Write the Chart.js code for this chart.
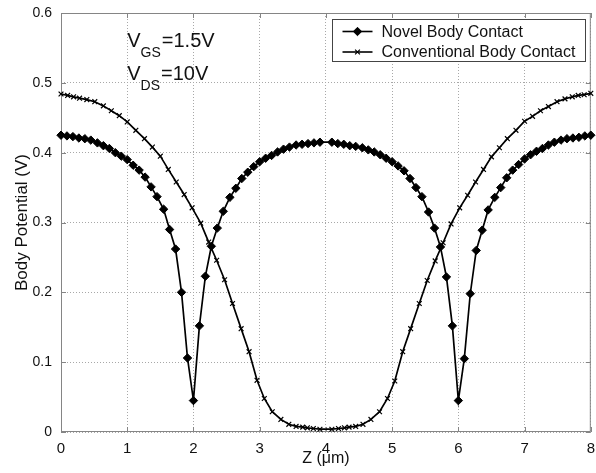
<!DOCTYPE html>
<html>
<head>
<meta charset="utf-8">
<title>Body Potential along Z</title>
<script src="https://cdn.jsdelivr.net/npm/chart.js@4.4.1/dist/chart.umd.min.js"></script>
<style>
  html, body { margin: 0; padding: 0; background: #fff; }
  #bodyChart { display: block; }
</style>
</head>
<body>
<canvas id="bodyChart" width="596" height="473"></canvas>
<script>
// Z position (um) and body potential (V)
const zNovel = [
  0.00, 0.09, 0.18, 0.27, 0.36, 0.45, 0.55, 0.64, 0.73, 0.82, 0.91,
  1.00, 1.09, 1.18, 1.27, 1.36, 1.45, 1.55, 1.64, 1.73, 1.82, 1.91,
  2.00, 2.09, 2.18, 2.27, 2.36, 2.45, 2.55, 2.64, 2.73, 2.82, 2.91,
  3.00, 3.09, 3.18, 3.27, 3.36, 3.45, 3.55, 3.64, 3.73, 3.82, 3.91,
  4.09, 4.18, 4.27, 4.36, 4.45, 4.55, 4.64, 4.73, 4.82, 4.91,
  5.00, 5.09, 5.18, 5.27, 5.36, 5.45, 5.55, 5.64, 5.73, 5.82, 5.91,
  6.00, 6.09, 6.18, 6.27, 6.36, 6.45, 6.55, 6.64, 6.73, 6.82, 6.91,
  7.00, 7.09, 7.18, 7.27, 7.36, 7.45, 7.55, 7.64, 7.73, 7.82, 7.91, 8.00
];
const novelBody = [
  0.425, 0.424, 0.423, 0.421, 0.420, 0.418, 0.414, 0.410, 0.406, 0.400, 0.395,
  0.390, 0.382, 0.375, 0.365, 0.351, 0.337, 0.319, 0.290, 0.262, 0.200, 0.106,
  0.045, 0.152, 0.223, 0.266, 0.292, 0.316, 0.336, 0.349, 0.363, 0.372, 0.380,
  0.387, 0.392, 0.396, 0.401, 0.405, 0.408, 0.411, 0.412, 0.413, 0.414, 0.415,
  0.415, 0.413, 0.412, 0.410, 0.409, 0.407, 0.404, 0.401, 0.397, 0.392,
  0.387, 0.381, 0.374, 0.363, 0.350, 0.337, 0.315, 0.292, 0.265, 0.222, 0.152,
  0.045, 0.105, 0.198, 0.260, 0.289, 0.318, 0.336, 0.350, 0.364, 0.375, 0.383,
  0.391, 0.397, 0.402, 0.406, 0.411, 0.415, 0.418, 0.420, 0.421, 0.422, 0.424, 0.425
];
const zConv = [
  0.00, 0.10, 0.19, 0.28, 0.39, 0.51, 0.64, 0.76, 0.88, 1.00,
  1.13, 1.26, 1.38, 1.50, 1.62, 1.74, 1.86, 1.98, 2.11, 2.23,
  2.35, 2.47, 2.59, 2.72, 2.84, 2.96, 3.07, 3.19, 3.32, 3.44,
  3.55, 3.65, 3.72, 3.81, 3.91,
  4.09, 4.19, 4.28, 4.35, 4.45, 4.56, 4.68, 4.81, 4.93, 5.04,
  5.16, 5.28, 5.41, 5.53, 5.65, 5.77, 5.89, 6.02, 6.14, 6.26,
  6.38, 6.50, 6.62, 6.74, 6.87, 7.00, 7.12, 7.24, 7.36, 7.49,
  7.61, 7.72, 7.81, 7.90, 8.00
];
const convBody = [
  0.484, 0.482, 0.480, 0.478, 0.476, 0.473, 0.467, 0.460, 0.453, 0.444,
  0.432, 0.420, 0.408, 0.395, 0.376, 0.358, 0.340, 0.321, 0.299, 0.272,
  0.246, 0.218, 0.184, 0.148, 0.115, 0.074, 0.048, 0.029, 0.018, 0.011,
  0.008, 0.007, 0.006, 0.005, 0.004,
  0.004, 0.005, 0.006, 0.007, 0.008, 0.011, 0.018, 0.029, 0.048, 0.073,
  0.115, 0.148, 0.184, 0.217, 0.245, 0.271, 0.298, 0.321, 0.339, 0.358,
  0.376, 0.394, 0.407, 0.420, 0.432, 0.445, 0.452, 0.460, 0.466, 0.473,
  0.477, 0.480, 0.482, 0.483, 0.485
];
const zTicks = [0, 1, 2, 3, 4, 5, 6, 7, 8];
const potentialTicks = [0, 0.1, 0.2, 0.3, 0.4, 0.5, 0.6];
const seriesNames = ['Novel Body Contact', 'Conventional Body Contact'];
const biasNotes = [
  { main: 'V', sub: 'GS', rest: '=1.5V' },
  { main: 'V', sub: 'DS', rest: '=10V' }
];

const FONT = '"Liberation Sans", Arial, Helvetica, sans-serif';
Chart.defaults.font.family = FONT;
Chart.defaults.color = '#111';

const toPoints = (xs, ys) => xs.map((z, i) => ({ x: z, y: ys[i] }));

// box, inward ticks, legend and the bias text (MATLAB look)
const matlabFrame = {
  id: 'matlabFrame',
  beforeDatasetsDraw(chart) {
    const { ctx, chartArea: a, scales: { x, y } } = chart;
    ctx.save();
    ctx.strokeStyle = '#858585';
    ctx.lineWidth = 1;
    ctx.strokeRect(a.left + 0.5, a.top + 0.5, a.width - 1, a.height - 1);
    ctx.beginPath();
    zTicks.forEach(v => {
      const px = Math.round(x.getPixelForValue(v)) + 0.5;
      ctx.moveTo(px, a.bottom); ctx.lineTo(px, a.bottom - 5);
      ctx.moveTo(px, a.top); ctx.lineTo(px, a.top + 5);
    });
    potentialTicks.forEach(v => {
      const py = Math.round(y.getPixelForValue(v)) + 0.5;
      ctx.moveTo(a.left, py); ctx.lineTo(a.left + 5, py);
      ctx.moveTo(a.right, py); ctx.lineTo(a.right - 5, py);
    });
    ctx.stroke();
    ctx.restore();
  },
  afterDraw(chart) {
    const { ctx, chartArea: a, scales: { x, y } } = chart;
    ctx.save();

    // legend box
    ctx.font = '16px ' + FONT;
    const textW = Math.max(...seriesNames.map(s => ctx.measureText(s).width));
    const boxW = Math.round(49 + textW + 10);
    const boxH = 42;
    const bx = Math.round(a.right - 6 - boxW) + 0.5;
    const by = Math.round(a.top + 6) + 0.5;
    ctx.fillStyle = '#fff';
    ctx.fillRect(bx, by, boxW, boxH);
    ctx.strokeStyle = '#444';
    ctx.lineWidth = 1;
    ctx.strokeRect(bx, by, boxW, boxH);
    chart.data.datasets.forEach((ds, i) => {
      const ry = by + 12 + i * 20.5;
      ctx.strokeStyle = '#000';
      ctx.lineWidth = 1.6;
      ctx.beginPath();
      ctx.moveTo(bx + 10, ry); ctx.lineTo(bx + 40, ry);
      ctx.stroke();
      ctx.fillStyle = '#000';
      ctx.strokeStyle = '#000';
      ctx.lineWidth = ds.pointBorderWidth;
      Chart.helpers.drawPoint(ctx, {
        pointStyle: ds.pointStyle, radius: ds.pointRadius,
        borderWidth: ds.pointBorderWidth, rotation: 0
      }, bx + 25, ry);
      ctx.fillStyle = '#111';
      ctx.textBaseline = 'middle';
      ctx.textAlign = 'left';
      ctx.font = '16px ' + FONT;
      ctx.fillText(ds.label, bx + 49, ry + 1);
    });

    // bias conditions
    const noteX = x.getPixelForValue(1.0);
    const noteY = [y.getPixelForValue(0.552), y.getPixelForValue(0.504)];
    ctx.fillStyle = '#111';
    ctx.textBaseline = 'alphabetic';
    biasNotes.forEach((n, i) => {
      let cx = noteX;
      ctx.font = '20px ' + FONT;
      ctx.fillText(n.main, cx, noteY[i]);
      cx += ctx.measureText(n.main).width;
      ctx.font = '14px ' + FONT;
      ctx.fillText(n.sub, cx, noteY[i] + 10);
      cx += ctx.measureText(n.sub).width + 1;
      ctx.font = '20px ' + FONT;
      ctx.fillText(n.rest, cx, noteY[i]);
    });
    ctx.restore();
  }
};

const bodyCtx = document.getElementById('bodyChart').getContext('2d');
new Chart(bodyCtx, {
  type: 'scatter',
  data: {
    datasets: [
      {
        label: seriesNames[0],
        data: toPoints(zNovel, novelBody),
        showLine: true,
        borderColor: '#000',
        borderWidth: 1.7,
        pointStyle: 'rectRot',
        pointRadius: 4.2,
        pointBackgroundColor: '#000',
        pointBorderColor: '#000',
        pointBorderWidth: 1,
        clip: 8
      },
      {
        label: seriesNames[1],
        data: toPoints(zConv, convBody),
        showLine: true,
        borderColor: '#000',
        borderWidth: 1.7,
        pointStyle: 'crossRot',
        pointRadius: 3.4,
        pointBackgroundColor: '#000',
        pointBorderColor: '#000',
        pointBorderWidth: 1.2,
        clip: 8
      }
    ]
  },
  options: {
    responsive: false,
    animation: false,
    events: [],
    layout: { padding: { top: 13, right: 4, left: 0, bottom: 0 } },
    scales: {
      x: {
        type: 'linear',
        min: 0,
        max: 8,
        afterBuildTicks: s => { s.ticks = zTicks.map(v => ({ value: v })); },
        afterFit: s => { s.height = 41; s.paddingLeft = 0; s.paddingRight = 0; },
        ticks: { font: { size: 15 }, color: '#111', padding: 8, maxRotation: 0 },
        grid: { color: '#a8a8a8', lineWidth: 1, drawTicks: false },
        border: { display: false, dash: [1, 2] },
        title: { display: true, text: 'Z (\u03bcm)', font: { size: 16 }, color: '#111', padding: { top: 0, bottom: 5 } }
      },
      y: {
        min: 0,
        max: 0.6,
        afterBuildTicks: s => { s.ticks = potentialTicks.map(v => ({ value: v })); },
        afterFit: s => { s.width = 61; s.paddingTop = 0; s.paddingBottom = 0; },
        ticks: {
          font: { size: 14 }, color: '#111', padding: 9,
          callback: v => String(Math.round(v * 10) / 10)
        },
        grid: { color: '#a8a8a8', lineWidth: 1, drawTicks: false },
        border: { display: false, dash: [1, 2] },
        title: { display: true, text: 'Body Potential (V)', font: { size: 17 }, color: '#111', padding: { top: 12, bottom: 0 } }
      }
    },
    plugins: {
      legend: { display: false },
      tooltip: { enabled: false }
    }
  },
  plugins: [matlabFrame]
});
</script>
</body>
</html>
